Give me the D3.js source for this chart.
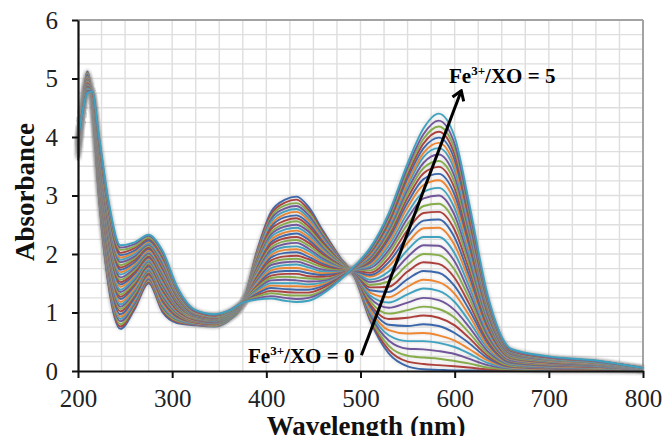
<!DOCTYPE html>
<html>
<head>
<meta charset="utf-8">
<script src="https://cdn.jsdelivr.net/npm/d3@7"></script>
<style>
	body { margin: 0; background: #fff; }
	svg { display: block; }
	text { font-family: "Liberation Serif", "Times New Roman", serif; }
</style>
</head>
<body>
<svg id="chart"></svg>
<script>
// wavelengths (nm) shared by every spectrum
const wavelengths = [200, 205, 210, 215, 222, 232, 245, 260, 275, 290, 305, 325, 345, 360, 375, 390, 405, 420, 432, 445, 460, 478,
	494, 510, 530, 550, 567, 583, 600, 615, 635, 660, 700, 750, 800];

// one row per titration step, Fe3+/XO = 0 first, Fe3+/XO = 5 last
const absorbance = [
	[3.60,4.55,5.12,4.60,3.00,1.50,0.72,1.05,1.50,1.00,0.82,0.78,0.76,0.86,1.15,2.05,2.72,2.93,2.98,2.80,2.40,1.95, 1.60,0.87,0.30,0.08,0.03,0.02,0.01,0.01,0.01,0.01,0.00,0.00,0.00],
	[3.61,4.55,5.11,4.61,3.03,1.54,0.76,1.08,1.52,1.03,0.84,0.79,0.77,0.87,1.15,2.03,2.68,2.88,2.93,2.75,2.37,1.94, 1.60,0.90,0.36,0.16,0.12,0.10,0.08,0.06,0.03,0.02,0.01,0.00,0.00],
	[3.62,4.54,5.10,4.61,3.06,1.59,0.80,1.12,1.55,1.06,0.86,0.80,0.77,0.87,1.15,2.00,2.63,2.83,2.87,2.71,2.34,1.93, 1.61,0.93,0.43,0.26,0.23,0.21,0.17,0.13,0.06,0.03,0.01,0.01,0.00],
	[3.63,4.54,5.09,4.62,3.09,1.63,0.85,1.15,1.57,1.09,0.88,0.80,0.78,0.88,1.15,1.98,2.59,2.78,2.82,2.66,2.31,1.92, 1.61,0.97,0.52,0.38,0.37,0.34,0.29,0.21,0.10,0.04,0.02,0.01,0.00],
	[3.64,4.54,5.08,4.62,3.12,1.67,0.89,1.19,1.60,1.12,0.89,0.81,0.79,0.88,1.15,1.95,2.55,2.73,2.77,2.61,2.27,1.90, 1.62,1.02,0.61,0.51,0.51,0.48,0.41,0.30,0.14,0.05,0.02,0.02,0.00],
	[3.65,4.54,5.07,4.63,3.15,1.71,0.93,1.22,1.62,1.15,0.91,0.82,0.79,0.89,1.15,1.93,2.50,2.68,2.72,2.57,2.24,1.89, 1.63,1.06,0.70,0.64,0.65,0.61,0.52,0.38,0.18,0.06,0.03,0.02,0.01],
	[3.66,4.53,5.06,4.63,3.19,1.76,0.97,1.25,1.65,1.19,0.93,0.83,0.80,0.89,1.15,1.90,2.46,2.63,2.66,2.52,2.21,1.88, 1.63,1.11,0.79,0.77,0.80,0.77,0.65,0.48,0.22,0.07,0.04,0.03,0.01],
	[3.67,4.53,5.04,4.64,3.22,1.80,1.02,1.29,1.67,1.22,0.95,0.83,0.80,0.90,1.15,1.88,2.42,2.57,2.61,2.47,2.18,1.87, 1.64,1.15,0.89,0.91,0.95,0.91,0.78,0.57,0.26,0.08,0.05,0.03,0.01],
	[3.68,4.53,5.03,4.64,3.25,1.84,1.06,1.32,1.70,1.25,0.97,0.84,0.81,0.90,1.15,1.86,2.37,2.52,2.56,2.42,2.15,1.86, 1.65,1.20,0.98,1.04,1.10,1.06,0.91,0.66,0.30,0.09,0.06,0.04,0.01],
	[3.69,4.52,5.02,4.65,3.28,1.88,1.10,1.36,1.72,1.28,0.99,0.85,0.82,0.91,1.16,1.83,2.33,2.47,2.50,2.38,2.11,1.84, 1.65,1.25,1.08,1.17,1.25,1.21,1.04,0.76,0.34,0.11,0.06,0.05,0.01],
	[3.70,4.52,5.01,4.65,3.31,1.93,1.14,1.39,1.74,1.31,1.01,0.86,0.82,0.91,1.16,1.81,2.29,2.42,2.45,2.33,2.08,1.83, 1.66,1.29,1.17,1.31,1.41,1.37,1.18,0.86,0.39,0.12,0.07,0.05,0.01],
	[3.71,4.52,5.00,4.66,3.34,1.97,1.18,1.42,1.77,1.34,1.02,0.86,0.83,0.92,1.16,1.78,2.24,2.37,2.40,2.28,2.05,1.82, 1.67,1.34,1.26,1.44,1.56,1.52,1.32,0.96,0.43,0.13,0.08,0.06,0.02],
	[3.72,4.52,4.99,4.66,3.37,2.01,1.23,1.46,1.79,1.37,1.04,0.87,0.83,0.92,1.16,1.76,2.20,2.32,2.35,2.24,2.02,1.81, 1.67,1.38,1.35,1.57,1.71,1.68,1.45,1.06,0.48,0.14,0.09,0.07,0.02],
	[3.73,4.51,4.98,4.67,3.40,2.05,1.27,1.49,1.82,1.40,1.06,0.88,0.84,0.93,1.16,1.73,2.16,2.27,2.29,2.19,1.99,1.80, 1.68,1.43,1.44,1.70,1.86,1.83,1.59,1.16,0.52,0.16,0.10,0.07,0.02],
	[3.74,4.51,4.97,4.67,3.43,2.10,1.31,1.52,1.84,1.43,1.08,0.89,0.85,0.93,1.16,1.71,2.11,2.22,2.24,2.14,1.96,1.79, 1.69,1.47,1.53,1.82,2.00,1.98,1.73,1.26,0.57,0.17,0.11,0.08,0.02],
	[3.75,4.51,4.96,4.68,3.46,2.14,1.35,1.56,1.87,1.46,1.10,0.90,0.85,0.94,1.16,1.68,2.07,2.17,2.19,2.09,1.92,1.77, 1.69,1.52,1.62,1.95,2.15,2.14,1.87,1.36,0.61,0.18,0.12,0.08,0.02],
	[3.77,4.50,4.95,4.69,3.50,2.18,1.39,1.59,1.89,1.50,1.12,0.90,0.86,0.94,1.16,1.66,2.02,2.12,2.13,2.05,1.89,1.76, 1.70,1.56,1.70,2.07,2.29,2.29,2.01,1.46,0.66,0.20,0.13,0.09,0.03],
	[3.78,4.50,4.94,4.69,3.53,2.23,1.44,1.63,1.92,1.53,1.14,0.91,0.87,0.95,1.16,1.64,1.98,2.07,2.08,2.00,1.86,1.75, 1.71,1.61,1.79,2.19,2.44,2.45,2.15,1.56,0.70,0.21,0.13,0.10,0.03],
	[3.79,4.50,4.92,4.70,3.56,2.27,1.48,1.66,1.94,1.56,1.15,0.92,0.87,0.95,1.16,1.61,1.94,2.02,2.03,1.95,1.83,1.74, 1.71,1.64,1.86,2.30,2.57,2.59,2.28,1.65,0.74,0.22,0.14,0.10,0.03],
	[3.80,4.49,4.91,4.70,3.59,2.31,1.52,1.69,1.96,1.59,1.17,0.93,0.88,0.96,1.16,1.59,1.89,1.96,1.97,1.91,1.80,1.73, 1.72,1.68,1.93,2.41,2.70,2.72,2.41,1.75,0.79,0.23,0.15,0.11,0.03],
	[3.81,4.49,4.90,4.71,3.62,2.35,1.56,1.73,1.99,1.62,1.19,0.93,0.88,0.96,1.16,1.56,1.85,1.91,1.92,1.86,1.77,1.72, 1.73,1.72,2.01,2.51,2.82,2.86,2.54,1.84,0.83,0.24,0.16,0.11,0.03],
	[3.82,4.49,4.89,4.71,3.65,2.40,1.60,1.76,2.01,1.65,1.21,0.94,0.89,0.97,1.16,1.54,1.81,1.86,1.87,1.81,1.73,1.70, 1.73,1.76,2.07,2.61,2.95,3.00,2.66,1.93,0.87,0.26,0.17,0.12,0.03],
	[3.83,4.49,4.88,4.72,3.68,2.44,1.65,1.79,2.04,1.68,1.23,0.95,0.90,0.97,1.16,1.51,1.76,1.81,1.82,1.77,1.70,1.69, 1.74,1.79,2.14,2.70,3.06,3.13,2.78,2.02,0.91,0.27,0.17,0.13,0.03],
	[3.84,4.48,4.87,4.72,3.71,2.48,1.69,1.83,2.06,1.71,1.25,0.96,0.90,0.98,1.16,1.49,1.72,1.76,1.76,1.72,1.67,1.68, 1.75,1.82,2.20,2.80,3.18,3.26,2.90,2.11,0.95,0.28,0.18,0.13,0.04],
	[3.85,4.48,4.86,4.73,3.74,2.52,1.73,1.86,2.09,1.74,1.27,0.96,0.91,0.98,1.16,1.46,1.68,1.71,1.71,1.67,1.64,1.67, 1.75,1.85,2.26,2.88,3.28,3.37,3.01,2.18,0.98,0.29,0.19,0.14,0.04],
	[3.86,4.48,4.85,4.73,3.77,2.57,1.77,1.90,2.11,1.77,1.28,0.97,0.91,0.99,1.16,1.44,1.63,1.66,1.66,1.62,1.61,1.66, 1.76,1.88,2.31,2.96,3.38,3.49,3.12,2.26,1.02,0.30,0.20,0.14,0.04],
	[3.87,4.47,4.84,4.74,3.80,2.61,1.81,1.93,2.14,1.80,1.30,0.98,0.92,0.99,1.17,1.42,1.59,1.61,1.60,1.58,1.57,1.64, 1.76,1.91,2.36,3.03,3.47,3.59,3.22,2.34,1.05,0.31,0.20,0.14,0.04],
	[3.88,4.47,4.83,4.74,3.83,2.65,1.86,1.96,2.16,1.83,1.32,0.99,0.93,1.00,1.17,1.39,1.55,1.56,1.55,1.53,1.54,1.63, 1.77,1.93,2.41,3.10,3.56,3.70,3.32,2.41,1.08,0.32,0.21,0.15,0.04],
	[3.89,4.47,4.82,4.75,3.87,2.70,1.90,2.00,2.18,1.87,1.34,0.99,0.93,1.00,1.17,1.37,1.50,1.50,1.50,1.48,1.51,1.62, 1.77,1.96,2.45,3.17,3.66,3.81,3.43,2.48,1.11,0.33,0.21,0.15,0.04],
	[3.90,4.47,4.80,4.75,3.90,2.74,1.94,2.03,2.21,1.90,1.36,1.00,0.94,1.01,1.17,1.34,1.46,1.45,1.45,1.44,1.48,1.61, 1.78,1.98,2.49,3.23,3.73,3.90,3.51,2.55,1.14,0.34,0.22,0.16,0.04],
	[3.91,4.46,4.79,4.76,3.93,2.78,1.98,2.06,2.23,1.93,1.38,1.01,0.95,1.01,1.17,1.32,1.42,1.40,1.39,1.39,1.45,1.60, 1.78,2.01,2.53,3.30,3.81,3.99,3.61,2.61,1.17,0.34,0.23,0.16,0.05],
	[3.92,4.46,4.78,4.76,3.96,2.82,2.02,2.10,2.26,1.96,1.40,1.02,0.95,1.02,1.17,1.29,1.37,1.35,1.34,1.34,1.42,1.59, 1.78,2.03,2.57,3.36,3.89,4.09,3.70,2.68,1.20,0.35,0.23,0.17,0.05],
	[3.93,4.46,4.77,4.77,3.99,2.86,2.07,2.13,2.28,1.99,1.41,1.03,0.96,1.02,1.17,1.27,1.33,1.30,1.29,1.29,1.38,1.57, 1.79,2.05,2.61,3.42,3.97,4.18,3.79,2.75,1.23,0.36,0.24,0.17,0.05],
	[3.94,4.45,4.76,4.78,4.02,2.91,2.11,2.17,2.31,2.02,1.43,1.03,0.96,1.03,1.17,1.24,1.28,1.25,1.23,1.25,1.35,1.56, 1.79,2.07,2.65,3.48,4.05,4.28,3.88,2.81,1.26,0.37,0.24,0.17,0.05],
	[3.95,4.45,4.75,4.78,4.05,2.95,2.15,2.20,2.33,2.05,1.45,1.04,0.97,1.03,1.17,1.22,1.24,1.20,1.18,1.20,1.32,1.55, 1.80,2.10,2.70,3.55,4.15,4.40,4.00,2.90,1.30,0.38,0.25,0.18,0.05]
];

const palette = ['#3a66ab', '#ad3f3b', '#86ad4a', '#71559b', '#3fa3c0', '#ee8632'];
const xTicks = [200, 300, 400, 500, 600, 700, 800];
const yTicks = [0, 1, 2, 3, 4, 5, 6];
// arrow from the first to the last spectrum: [wavelength, absorbance]
const arrowFrom = [501, 0.27];
const arrowTo = [607, 4.79];

const SERIF = '"Liberation Serif", "Times New Roman", serif';
const W = 667, H = 436;
const svg = d3.select('#chart').attr('width', W).attr('height', H);

const x = d3.scaleLinear().domain([200, 800]).range([78, 643]);
const y = d3.scaleLinear().domain([0, 6]).range([371, 20]);

const defs = svg.append('defs');
defs.append('filter').attr('id', 'glow')
	.attr('x', '-5%').attr('y', '-5%').attr('width', '110%').attr('height', '110%')
	.append('feGaussianBlur').attr('stdDeviation', 1.2);
defs.append('marker').attr('id', 'head')
	.attr('markerUnits', 'userSpaceOnUse')
	.attr('viewBox', '-12 -8 14 16')
	.attr('markerWidth', 14).attr('markerHeight', 16)
	.attr('orient', 'auto')
	.append('path')
	.attr('d', 'M-9,-6L0,0L-9,6')
	.attr('fill', 'none').attr('stroke', '#000').attr('stroke-width', 3)
	.attr('stroke-linejoin', 'miter');

// minor grid, every 25 nm and every 0.25
const grid = svg.append('g').attr('stroke', '#dedede').attr('stroke-width', 1.4);
grid.selectAll('.gx').data(d3.range(225, 800, 25)).join('line')
	.attr('x1', d => x(d)).attr('x2', d => x(d))
	.attr('y1', y(0)).attr('y2', y(6));
grid.selectAll('.gy').data(d3.range(0.25, 6, 0.25)).join('line')
	.attr('x1', x(200)).attr('x2', x(800))
	.attr('y1', d => y(d)).attr('y2', d => y(d));

// frame: grey top / right
svg.append('line').attr('x1', x(200)).attr('x2', x(800)).attr('y1', y(6)).attr('y2', y(6))
	.attr('stroke', '#a3a3a3').attr('stroke-width', 2);
svg.append('line').attr('x1', x(800)).attr('x2', x(800)).attr('y1', y(6)).attr('y2', y(0))
	.attr('stroke', '#a3a3a3').attr('stroke-width', 2);

// spectra, each with its soft grey glow, drawn in titration order
const line = d3.line()
	.x((d, i) => x(wavelengths[i]))
	.y(d => y(d))
	.curve(d3.curveMonotoneX);

const series = svg.append('g').selectAll('g').data(absorbance).join('g');
series.append('path')
	.attr('d', line)
	.attr('fill', 'none')
	.attr('stroke', '#8a8a8a')
	.attr('stroke-opacity', 0.12)
	.attr('stroke-width', 5.5)
	.attr('filter', 'url(#glow)');
series.append('path')
	.attr('d', line)
	.attr('fill', 'none')
	.attr('stroke', (d, i) => palette[i % palette.length])
	.attr('stroke-width', 1.9);

// axes
const yAxis = svg.append('g').attr('transform', `translate(${x(200)},0)`)
	.call(d3.axisLeft(y).tickValues(yTicks).tickFormat(d3.format('d'))
		.tickSize(6).tickSizeOuter(0).tickPadding(14));
const xAxis = svg.append('g').attr('transform', `translate(0,${y(0)})`)
	.call(d3.axisBottom(x).tickValues(xTicks).tickFormat(d3.format('d'))
		.tickSize(7).tickSizeOuter(0).tickPadding(11));
[yAxis, xAxis].forEach(a => {
	a.attr('font-family', null);
	a.select('.domain').attr('stroke', '#111').attr('stroke-width', 2.2);
	a.selectAll('.tick line').attr('stroke', '#111').attr('stroke-width', 2);
	a.selectAll('.tick text')
		.style('font-family', SERIF)
		.style('font-size', '25px')
		.attr('fill', '#222');
});

// axis titles
svg.append('text')
	.attr('transform', 'translate(25,192) rotate(-90)')
	.attr('text-anchor', 'middle')
	.attr('dominant-baseline', 'central')
	.style('font-family', SERIF)
	.attr('font-size', 27).attr('font-weight', 'bold').attr('fill', '#111')
	.text('Absorbance');
svg.append('text')
	.attr('x', 366).attr('y', 435)
	.attr('text-anchor', 'middle')
	.style('font-family', SERIF)
	.attr('font-size', 27).attr('font-weight', 'bold').attr('fill', '#111')
	.text('Wavelength (nm)');

// arrow and its labels
svg.append('line')
	.attr('x1', x(arrowFrom[0])).attr('y1', y(arrowFrom[1]))
	.attr('x2', x(arrowTo[0])).attr('y2', y(arrowTo[1]))
	.attr('stroke', '#000').attr('stroke-width', 3)
	.attr('marker-end', 'url(#head)');

function ratioLabel(px, py, value) {
	const t = svg.append('text')
		.attr('x', px).attr('y', py)
		.style('font-family', SERIF)
		.attr('font-size', 21).attr('font-weight', 'bold').attr('fill', '#000');
	t.append('tspan').text('Fe');
	t.append('tspan').attr('font-size', 13).attr('dy', -8).text('3+');
	t.append('tspan').attr('dy', 8).text('/XO = ' + value);
}
ratioLabel(449, 83, 5);
ratioLabel(248, 363, 0);
</script>
</body>
</html>
